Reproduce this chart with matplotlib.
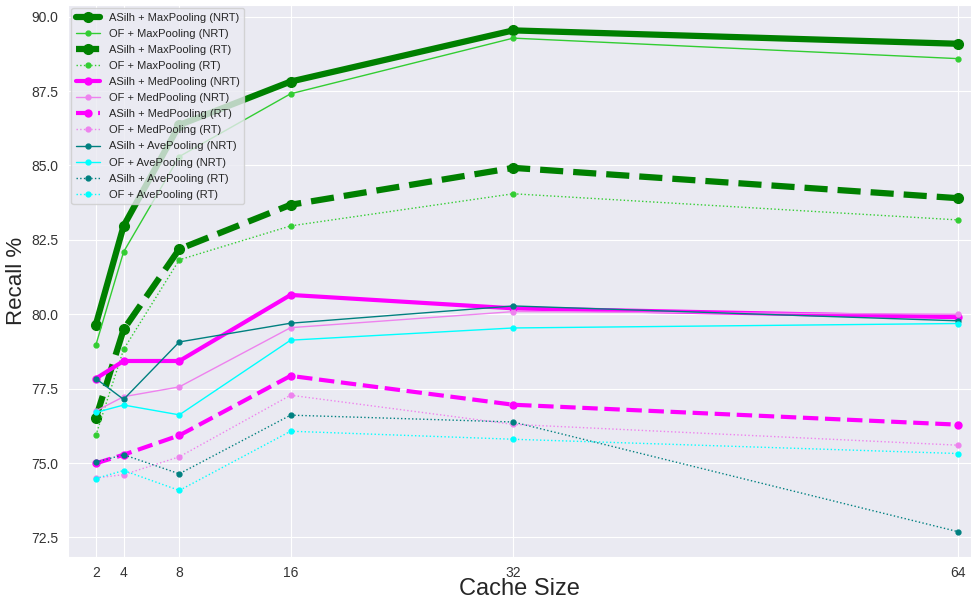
import matplotlib
matplotlib.use("Agg")
import matplotlib.pyplot as plt
import seaborn as sns

# cache sizes on the x axis
cache_sizes = [2, 4, 8, 16, 32, 64]

# recall (%) per configuration
asilh_max_nrt = [79.65, 82.97, 86.36, 87.82, 89.54, 89.09]
of_max_nrt = [78.96, 82.10, 85.30, 87.41, 89.28, 88.59]
asilh_max_rt = [76.51, 79.49, 82.19, 83.68, 84.92, 83.90]
of_max_rt = [75.93, 78.82, 81.83, 82.97, 84.05, 83.17]
asilh_med_nrt = [77.84, 78.43, 78.43, 80.65, 80.20, 79.90]
of_med_nrt = [76.75, 77.23, 77.56, 79.55, 80.09, 80.00]
asilh_med_rt = [74.99, 75.28, 75.93, 77.93, 76.96, 76.29]
of_med_rt = [74.50, 74.61, 75.21, 77.28, 76.30, 75.60]
asilh_ave_nrt = [77.84, 77.14, 79.07, 79.70, 80.28, 79.78]
of_ave_nrt = [76.70, 76.95, 76.62, 79.13, 79.54, 79.69]
asilh_ave_rt = [75.03, 75.28, 74.64, 76.61, 76.38, 72.69]
of_ave_rt = [74.48, 74.75, 74.08, 76.07, 75.80, 75.32]

sns.set_style("darkgrid")
plt.rcParams['font.family'] = ['Liberation Sans', 'DejaVu Sans']

fig = plt.figure(figsize=(9.71, 6.0), dpi=100)
ax = fig.add_axes([0.070, 0.072, 0.930, 0.920])

# (label, values, color, linestyle, linewidth, markersize)
series = [
    ("ASilh + MaxPooling (NRT)", asilh_max_nrt, "green", "-", 4.5, 7),
    ("OF + MaxPooling (NRT)", of_max_nrt, "limegreen", "-", 1.0, 3.5),
    ("ASilh + MaxPooling (RT)", asilh_max_rt, "green", "--", 4.5, 7),
    ("OF + MaxPooling (RT)", of_max_rt, "limegreen", ":", 1.0, 3.5),
    ("ASilh + MedPooling (NRT)", asilh_med_nrt, "magenta", "-", 3.0, 5),
    ("OF + MedPooling (NRT)", of_med_nrt, "violet", "-", 1.0, 3.5),
    ("ASilh + MedPooling (RT)", asilh_med_rt, "magenta", "--", 3.0, 5),
    ("OF + MedPooling (RT)", of_med_rt, "violet", ":", 1.0, 3.5),
    ("ASilh + AvePooling (NRT)", asilh_ave_nrt, "teal", "-", 1.0, 3.5),
    ("OF + AvePooling (NRT)", of_ave_nrt, "cyan", "-", 1.0, 3.5),
    ("ASilh + AvePooling (RT)", asilh_ave_rt, "teal", ":", 1.0, 3.5),
    ("OF + AvePooling (RT)", of_ave_rt, "cyan", ":", 1.0, 3.5),
]

for label, vals, color, ls, lw, ms in series:
    ax.plot(cache_sizes, vals, label=label, color=color, linestyle=ls,
            linewidth=lw, marker="o", markersize=ms)

ax.set_xticks(cache_sizes)
ax.set_xticklabels([str(c) for c in cache_sizes])
ax.set_xlim(0.0, 64.9)
ax.set_ylim(71.85, 90.4)
ax.set_yticks([72.5, 75.0, 77.5, 80.0, 82.5, 85.0, 87.5, 90.0])
ax.set_yticklabels(["72.5", "75.0", "77.5", "80.0", "82.5", "85.0", "87.5", "90.0"])
ax.tick_params(labelsize=10, colors="#333333")
ax.tick_params(axis="x", pad=3)

ax.set_xlabel("Cache Size", fontsize=17, labelpad=-1)
ax.set_ylabel("Recall %", fontsize=16, labelpad=3)

ax.legend(loc="upper left", fontsize=8, labelspacing=0.55,
          handlelength=2.2, borderaxespad=0.3, framealpha=0.8)

fig.savefig("out.png", dpi=100)
